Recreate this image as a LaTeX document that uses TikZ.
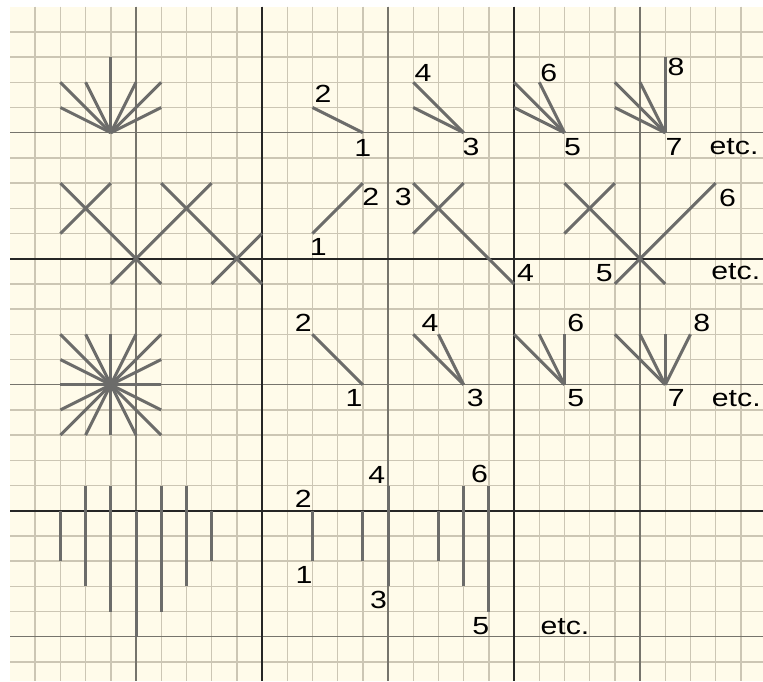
\documentclass[tikz,border=0pt]{standalone}
\usepackage{fontspec}
\newfontfamily\numfont[FakeStretch=1.22]{Liberation Sans}
\usepackage{tikz}

\definecolor{paper}{RGB}{255,251,234}
\definecolor{minorline}{RGB}{204,198,180}
\definecolor{midline}{RGB}{118,116,108}
\definecolor{majorline}{RGB}{38,38,38}
\definecolor{thread}{RGB}{108,108,106}

\begin{document}
\begin{tikzpicture}[
    x=0.5cm,y=-0.5cm,
    minor/.style={draw=minorline,line width=0.8pt},
    mid/.style={draw=midline,line width=0.8pt},
    major/.style={draw=majorline,line width=1.1pt},
    stitch/.style={draw=thread,line width=1.7pt},
    num/.style={font=\numfont\fontsize{14}{16}\selectfont,inner sep=0pt,
                text=black},
  ]
    % page and squared paper
    \useasboundingbox[fill=white] (-0.397,-0.266) rectangle (29.88,26.76);
    \fill[paper] (0,0) rectangle (29.88,26.76);
    \foreach \c in {1,...,29} \draw[minor] (\c,0) -- (\c,26.76);
    \foreach \r in {1,...,26} \draw[minor] (0,\r) -- (29.88,\r);
    \foreach \c in {5,15,25} \draw[mid] (\c,0) -- (\c,26.76);
    \foreach \r in {5,15,25} \draw[mid] (0,\r) -- (29.88,\r);
    \foreach \c in {10,20} \draw[major] (\c,0) -- (\c,26.76);
    \foreach \r in {10,20} \draw[major] (0,\r) -- (29.88,\r);

    % row 1: half fan
    \foreach \x/\y in {4/2,2/3,3/3,5/3,6/3,2/4,6/4}
      \draw[stitch] (4,5) -- (\x,\y);
    \draw[stitch] (12,4) -- (14,5);
    \foreach \x/\y in {16/3,16/4}
      \draw[stitch] (\x,\y) -- (18,5);
    \foreach \x/\y in {20/3,20/4,21/3}
      \draw[stitch] (\x,\y) -- (22,5);
    \foreach \x/\y in {24/3,24/4,25/3,26/2}
      \draw[stitch] (\x,\y) -- (26,5);
    \node[num] (a2) at (12.42,3.46) {2};
    \node[num] (a1) at (14.00,5.59) {1};
    \node[num] (a4) at (16.39,2.64) {4};
    \node[num] (a3) at (18.29,5.56) {3};
    \node[num] (a6) at (21.38,2.61) {6};
    \node[num] (a5) at (22.32,5.56) {5};
    \node[num] (a8) at (26.43,2.38) {8};
    \node[num] (a7) at (26.35,5.56) {7};
    \node[num] (aetc) at (28.73,5.56) {etc.};

    % row 2: crosses
    \draw[stitch] (2,7) -- (6,11);
    \draw[stitch] (4,7) -- (2,9);
    \draw[stitch] (8,7) -- (4,11);
    \draw[stitch] (6,7) -- (10,11);
    \draw[stitch] (10,9) -- (8,11);
    \draw[stitch] (12,9) -- (14,7);
    \draw[stitch] (16,7) -- (20,11);
    \draw[stitch] (18,7) -- (16,9);
    \draw[stitch] (22,7) -- (26,11);
    \draw[stitch] (24,7) -- (22,9);
    \draw[stitch] (28,7) -- (24,11);
    \node[num] (b2) at (14.32,7.54) {2};
    \node[num] (b1) at (12.23,9.52) {1};
    \node[num] (b3) at (15.61,7.54) {3};
    \node[num] (b4) at (20.46,10.57) {4};
    \node[num] (b5) at (23.58,10.57) {5};
    \node[num] (b6) at (28.47,7.57) {6};
    \node[num] (betc) at (28.80,10.53) {etc.};

    % row 3: full star
    \foreach \x/\y in {2/13,3/13,4/13,5/13,6/13,2/14,6/14,2/15,6/15,
                       2/16,6/16,2/17,3/17,4/17,5/17,6/17}
      \draw[stitch] (4,15) -- (\x,\y);
    \draw[stitch] (12,13) -- (14,15);
    \foreach \x/\y in {16/13,17/13}
      \draw[stitch] (\x,\y) -- (18,15);
    \foreach \x/\y in {20/13,21/13,22/13}
      \draw[stitch] (\x,\y) -- (22,15);
    \foreach \x/\y in {24/13,25/13,26/13,27/13}
      \draw[stitch] (\x,\y) -- (26,15);
    \node[num] (c2) at (11.64,12.53) {2};
    \node[num] (c1) at (13.65,15.54) {1};
    \node[num] (c4) at (16.67,12.53) {4};
    \node[num] (c3) at (18.46,15.54) {3};
    \node[num] (c6) at (22.45,12.53) {6};
    \node[num] (c5) at (22.45,15.54) {5};
    \node[num] (c8) at (27.45,12.53) {8};
    \node[num] (c7) at (26.44,15.54) {7};
    \node[num] (cetc) at (28.82,15.54) {etc.};

    % row 4: straight bars
    \foreach \x/\a/\b in {2/20/22,3/19/23,4/19/24,5/20/25,6/19/24,7/19/23,8/20/22}
      \draw[stitch] (\x,\a) -- (\x,\b);
    \foreach \x/\a/\b in {12/20/22,14/20/22,15/19/23,17/20/22,18/19/23,19/19/24}
      \draw[stitch] (\x,\a) -- (\x,\b);
    \node[num] (d2) at (11.64,19.54) {2};
    \node[num] (d1) at (11.67,22.55) {1};
    \node[num] (d4) at (14.55,18.58) {4};
    \node[num] (d3) at (14.62,23.54) {3};
    \node[num] (d6) at (18.63,18.54) {6};
    \node[num] (d5) at (18.68,24.57) {5};
    \node[num] (detc) at (22.02,24.60) {etc.};
\end{tikzpicture}
\end{document}
